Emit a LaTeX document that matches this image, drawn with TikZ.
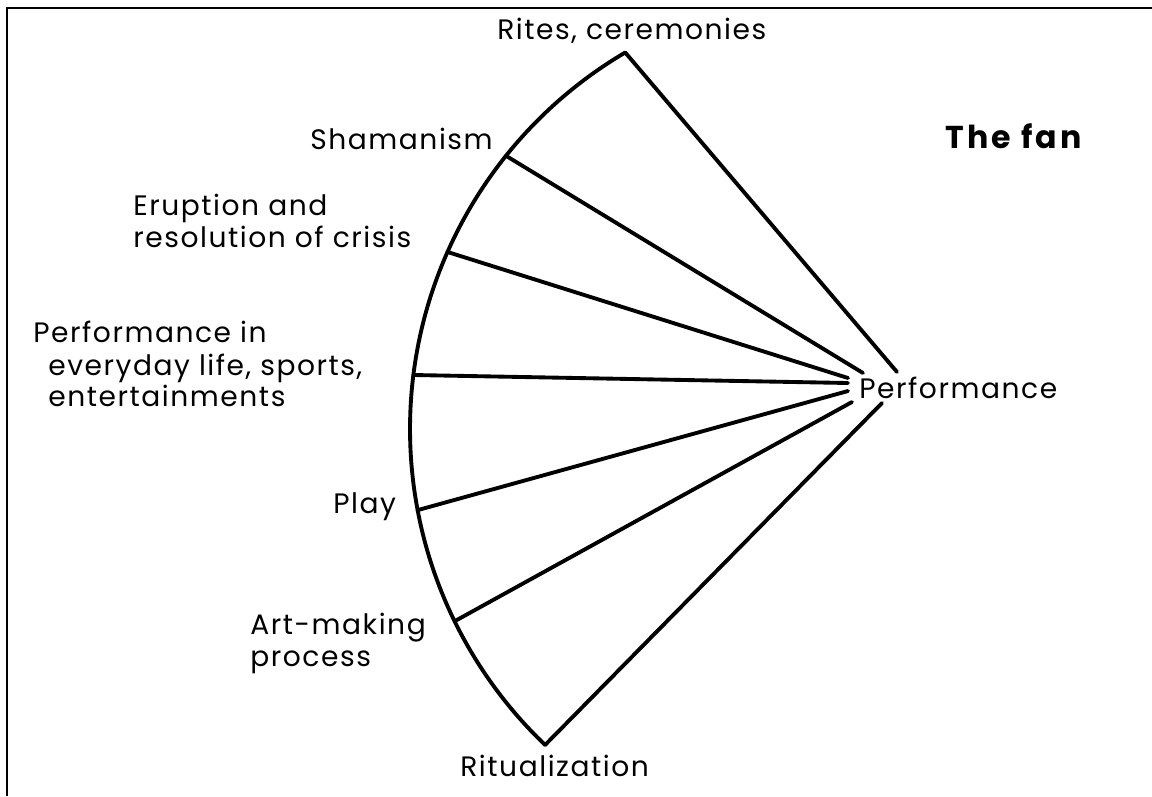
\documentclass[tikz,border=0pt]{standalone}
\usepackage{fontspec}
\setmainfont{Poppins}
\usetikzlibrary{calc}
\begin{document}
\begin{tikzpicture}[x=0.02cm,y=-0.02cm,
  fan/.style={line width=2.2pt, line cap=round, line join=round},
  lbl/.style={anchor=base west, inner sep=0pt, font=\fontsize{16}{18}\selectfont\addfontfeatures{LetterSpace=5.5}}]
\useasboundingbox (0,0) rectangle (1152,796);
\draw[line width=1.4pt] (7,796) -- (7,8) -- (1152,8);
\coordinate (C) at (847,429);
\coordinate (T) at ($(C)+(239.5:437)$);
\coordinate (S) at ($(C)+(218.7:437)$);
\coordinate (E) at ($(C)+(203.9:437)$);
\coordinate (P) at ($(C)+(187.1:437)$);
\coordinate (Pl) at ($(C)+(169.3:437)$);
\coordinate (A) at ($(C)+(153.9:437)$);
\coordinate (B) at ($(C)+(133.7:437)$);
\coordinate (eT) at (897,372);
\coordinate (eS) at (863,373);
\coordinate (eE) at (848,378);
\coordinate (eP) at (848,383);
\coordinate (ePl) at (848,391);
\coordinate (eA) at (852,402);
\coordinate (eB) at (882,403);
\draw[fan] (T) arc[start angle=239.5, end angle=133.7, radius=437];
\draw[fan] (T) -- (eT);
\draw[fan] (S) -- (eS);
\draw[fan] (E) -- (eE);
\draw[fan] (P) -- (eP);
\draw[fan] (Pl) -- (ePl);
\draw[fan] (A) -- (eA);
\draw[fan] (B) -- (eB);
\node[lbl] (rites) at (497,39) {Rites, ceremonies};
\node[lbl, anchor=base east] (sham) at (493,149) {Shamanism};
\node[lbl] (erup1) at (133,215) {Eruption and};
\node[lbl] (erup2) at (133,247) {resolution of crisis};
\node[lbl] (perf1) at (33,342) {Performance in};
\node[lbl] (perf2) at (48,375) {everyday life, sports,};
\node[lbl] (perf3) at (48,406) {entertainments};
\node[lbl] (play) at (333,513) {Play};
\node[lbl] (art1) at (250,634) {Art-making};
\node[lbl] (art2) at (250,666) {process};
\node[lbl] (ritual) at (460,776) {Ritualization};
\node[lbl] (perf) at (859,398) {Performance};
\node[lbl, font=\fontsize{18}{20}\selectfont\bfseries\addfontfeatures{LetterSpace=10}] (title) at (945,148) {The fan};
\end{tikzpicture}
\end{document}
